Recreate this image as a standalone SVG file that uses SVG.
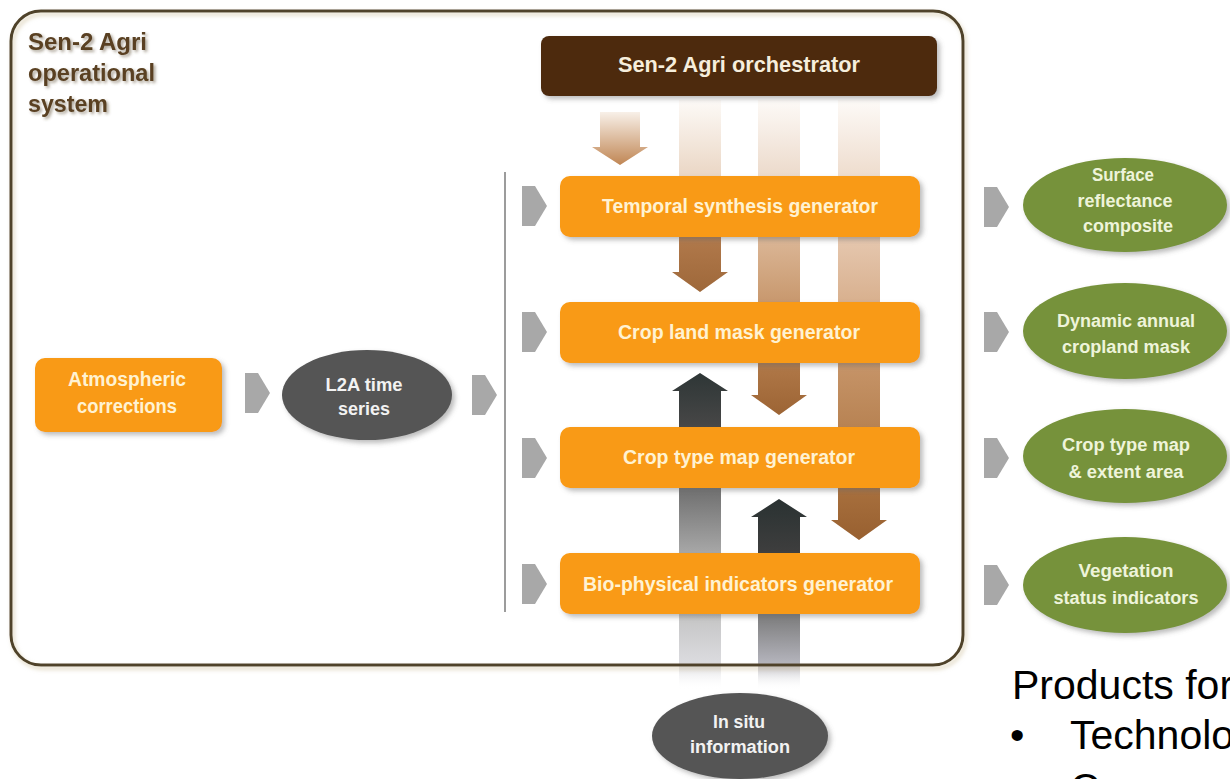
<svg xmlns="http://www.w3.org/2000/svg" width="1230" height="779" viewBox="0 0 1230 779">
<defs>
<style>
.t{font-family:"Liberation Sans",Arial,sans-serif;font-weight:bold;text-anchor:middle}
.orange{fill:#f99a12}
.ot{fill:#fff2d2;font-size:20px}
.gt{fill:#eef4da;font-size:18px}
.wt{fill:#f2f2f2;font-size:18px}
.green{fill:#76923a}
.gray{fill:#555555}
.chev{fill:#a8a8a8}
.big{font-family:"Liberation Sans",Arial,sans-serif;font-size:41px;fill:#000}
</style>
<filter id="sh" x="-10%" y="-20%" width="125%" height="150%">
<feGaussianBlur in="SourceAlpha" stdDeviation="2.5"/>
<feOffset dx="3" dy="3" result="b"/>
<feFlood flood-color="#6a6a6a" flood-opacity="0.45"/>
<feComposite in2="b" operator="in"/>
<feMerge><feMergeNode/><feMergeNode in="SourceGraphic"/></feMerge>
</filter>
<filter id="tsh" x="-10%" y="-30%" width="120%" height="160%">
<feGaussianBlur in="SourceAlpha" stdDeviation="1.8"/>
<feOffset dx="1.5" dy="2" result="b"/>
<feFlood flood-color="#5a4a30" flood-opacity="0.5"/>
<feComposite in2="b" operator="in"/>
<feMerge><feMergeNode/><feMergeNode in="SourceGraphic"/></feMerge>
</filter>
<filter id="osh" x="-5%" y="-5%" width="110%" height="110%">
<feGaussianBlur in="SourceAlpha" stdDeviation="2"/>
<feOffset dx="2" dy="3" result="b"/>
<feFlood flood-color="#c8b890" flood-opacity="0.6"/>
<feComposite in2="b" operator="in"/>
<feMerge><feMergeNode/><feMergeNode in="SourceGraphic"/></feMerge>
</filter>
<path id="chv" d="M0 -20 H13 L25 0 L13 20 H0 Z"/>
<linearGradient id="g1" x1="0" y1="0" x2="0" y2="1">
<stop offset="0" stop-color="#f8f0e8"/><stop offset="1" stop-color="#c08654"/>
</linearGradient>
<linearGradient id="g2" x1="0" y1="0" x2="0" y2="1">
<stop offset="0" stop-color="#fdfaf7"/><stop offset="0.4" stop-color="#ead6c4"/><stop offset="0.7" stop-color="#b27a4c"/><stop offset="1" stop-color="#9e683a"/>
</linearGradient>
<linearGradient id="g3" x1="0" y1="0" x2="0" y2="1">
<stop offset="0" stop-color="#fdfaf7"/><stop offset="0.24" stop-color="#ecdacb"/><stop offset="0.43" stop-color="#dcb898"/><stop offset="0.64" stop-color="#c8986e"/><stop offset="0.84" stop-color="#b07848"/><stop offset="1" stop-color="#9c6434"/>
</linearGradient>
<linearGradient id="g4" x1="0" y1="0" x2="0" y2="1">
<stop offset="0" stop-color="#fdfaf7"/><stop offset="0.175" stop-color="#eedccd"/><stop offset="0.31" stop-color="#e6c8b0"/><stop offset="0.46" stop-color="#d8b08e"/><stop offset="0.6" stop-color="#c69468"/><stop offset="0.75" stop-color="#b78252"/><stop offset="0.88" stop-color="#a8703e"/><stop offset="1" stop-color="#986030"/>
</linearGradient>
<linearGradient id="u2" x1="0" y1="0" x2="0" y2="1">
<stop offset="0" stop-color="#2e3636"/><stop offset="0.17" stop-color="#474747"/><stop offset="0.36" stop-color="#6e6e6e"/><stop offset="0.57" stop-color="#a8a8a8"/><stop offset="0.76" stop-color="#c4c4c4"/><stop offset="0.92" stop-color="#dcdce0"/><stop offset="1" stop-color="#ffffff" stop-opacity="0"/>
</linearGradient>
<linearGradient id="u3" x1="0" y1="0" x2="0" y2="1">
<stop offset="0" stop-color="#2a3232"/><stop offset="0.28" stop-color="#3e3e3e"/><stop offset="0.6" stop-color="#7a7a7a"/><stop offset="0.86" stop-color="#b4b4bc"/><stop offset="1" stop-color="#ffffff" stop-opacity="0"/>
</linearGradient>
</defs>

<rect width="1230" height="779" fill="#ffffff"/>

<rect x="11" y="11" width="952" height="654" rx="30" fill="#ffffff"/>

<g id="connectors">
<path d="M600 112 H640 V147 H648 L620 165 L592 147 H600 Z" fill="url(#g1)"/>
<path d="M679 100 H721 V272 H728 L700 292 L672 272 H679 Z" fill="url(#g2)"/>
<path d="M758 100 H800 V395 H807 L779 415 L751 395 H758 Z" fill="url(#g3)"/>
<path d="M838 100 H880 V520 H887 L859 540 L831 520 H838 Z" fill="url(#g4)"/>
<path d="M679 690 V391 H672 L700 373 L728 391 H721 V690 Z" fill="url(#u2)"/>
<path d="M758 690 V517 H751 L779 499 L807 517 H800 V690 Z" fill="url(#u3)"/>
<line x1="505" y1="172" x2="505" y2="612" stroke="#9c9c9c" stroke-width="2"/>
<use href="#chv" class="chev" x="245" y="393"/>
<use href="#chv" class="chev" x="472" y="395"/>
<use href="#chv" class="chev" x="522" y="206"/>
<use href="#chv" class="chev" x="522" y="332"/>
<use href="#chv" class="chev" x="522" y="458"/>
<use href="#chv" class="chev" x="522" y="584"/>
<use href="#chv" class="chev" x="984" y="207"/>
<use href="#chv" class="chev" x="984" y="332"/>
<use href="#chv" class="chev" x="984" y="458"/>
<use href="#chv" class="chev" x="984" y="585"/>
</g>

<g id="system-frame">
<rect x="11" y="11" width="952" height="654" rx="30" fill="none" stroke="#4f4329" stroke-width="3" filter="url(#osh)"/>
<g filter="url(#tsh)" fill="#5a4122" style="font-family:'Liberation Sans',Arial,sans-serif;font-weight:bold;font-size:23.5px">
<text x="28" y="50" textLength="119" lengthAdjust="spacingAndGlyphs">Sen-2 Agri</text>
<text x="28" y="81" textLength="127" lengthAdjust="spacingAndGlyphs">operational</text>
<text x="28" y="112" textLength="80" lengthAdjust="spacingAndGlyphs">system</text>
</g>
</g>

<g id="orchestrator">
<rect x="541" y="36" width="396" height="60" rx="8" fill="#4d2c0b" filter="url(#sh)"/>
<text class="t" x="739" y="72" fill="#f6eedc" font-size="22" textLength="242" lengthAdjust="spacingAndGlyphs">Sen-2 Agri orchestrator</text>
</g>

<g id="temporal">
<rect class="orange" x="560" y="176" width="360" height="61" rx="10" filter="url(#sh)"/>
<text class="t ot" x="740" y="213" textLength="276" lengthAdjust="spacingAndGlyphs">Temporal synthesis generator</text>
</g>

<g id="cropland">
<rect class="orange" x="560" y="302" width="360" height="61" rx="10" filter="url(#sh)"/>
<text class="t ot" x="739" y="339" textLength="242" lengthAdjust="spacingAndGlyphs">Crop land mask generator</text>
</g>

<g id="croptype">
<rect class="orange" x="560" y="427" width="360" height="61" rx="10" filter="url(#sh)"/>
<text class="t ot" x="739" y="464" textLength="232" lengthAdjust="spacingAndGlyphs">Crop type map generator</text>
</g>

<g id="biophysical">
<rect class="orange" x="560" y="553" width="360" height="61" rx="10" filter="url(#sh)"/>
<text class="t ot" x="738" y="591" textLength="310" lengthAdjust="spacingAndGlyphs">Bio-physical indicators generator</text>
</g>

<g id="atmospheric">
<rect class="orange" x="35" y="358" width="187" height="74" rx="10" filter="url(#sh)"/>
<text class="t ot" x="127" y="386" font-size="19" textLength="118" lengthAdjust="spacingAndGlyphs">Atmospheric</text>
<text class="t ot" x="127" y="413" font-size="19" textLength="100" lengthAdjust="spacingAndGlyphs">corrections</text>
</g>

<g id="l2a">
<ellipse class="gray" cx="367" cy="395" rx="85" ry="45" filter="url(#sh)"/>
<text class="t wt" x="364" y="391" textLength="77" lengthAdjust="spacingAndGlyphs">L2A time</text>
<text class="t wt" x="364" y="415" textLength="52" lengthAdjust="spacingAndGlyphs">series</text>
</g>

<g id="insitu">
<ellipse class="gray" cx="740" cy="736" rx="88" ry="43" filter="url(#sh)"/>
<text class="t wt" x="739" y="728" textLength="52" lengthAdjust="spacingAndGlyphs">In situ</text>
<text class="t wt" x="740" y="753" textLength="100" lengthAdjust="spacingAndGlyphs">information</text>
</g>

<g id="surface">
<ellipse class="green" cx="1125" cy="205" rx="102" ry="47" filter="url(#sh)"/>
<text class="t gt" x="1123" y="181" textLength="62" lengthAdjust="spacingAndGlyphs">Surface</text>
<text class="t gt" x="1125" y="207" textLength="95" lengthAdjust="spacingAndGlyphs">reflectance</text>
<text class="t gt" x="1128" y="232" textLength="90" lengthAdjust="spacingAndGlyphs">composite</text>
</g>

<g id="cropmask">
<ellipse class="green" cx="1125" cy="331" rx="102" ry="48" filter="url(#sh)"/>
<text class="t gt" x="1126" y="327" textLength="138" lengthAdjust="spacingAndGlyphs">Dynamic annual</text>
<text class="t gt" x="1126" y="353" textLength="128" lengthAdjust="spacingAndGlyphs">cropland mask</text>
</g>

<g id="croptypemap">
<ellipse class="green" cx="1125" cy="456" rx="102" ry="47" filter="url(#sh)"/>
<text class="t gt" x="1126" y="451" textLength="128" lengthAdjust="spacingAndGlyphs">Crop type map</text>
<text class="t gt" x="1126" y="478" textLength="115" lengthAdjust="spacingAndGlyphs">&amp; extent area</text>
</g>

<g id="vegetation">
<ellipse class="green" cx="1125" cy="585" rx="102" ry="48" filter="url(#sh)"/>
<text class="t gt" x="1126" y="577" textLength="95" lengthAdjust="spacingAndGlyphs">Vegetation</text>
<text class="t gt" x="1126" y="604" textLength="145" lengthAdjust="spacingAndGlyphs">status indicators</text>
</g>

<g id="products-text">
<text class="big" x="1012" y="699">Products for</text>
<text class="big" x="1010" y="749">•</text>
<text class="big" x="1070" y="749">Technolo</text>
<text class="big" x="1070" y="802">Crop ma</text>
</g>
</svg>
